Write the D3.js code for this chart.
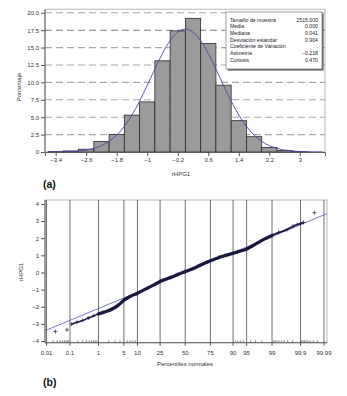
<!DOCTYPE html>
<html><head><meta charset="utf-8">
<script src="https://cdn.jsdelivr.net/npm/d3@7"></script>
<style>
html,body{margin:0;padding:0;background:#fff;}
svg{display:block;font-family:"Liberation Sans",Arial,sans-serif;}
</style></head>
<body>
<svg id="chart" width="347" height="396"></svg>
<script>
// ---------- Panel (a): histogram data ----------
const binLow = [-3.6,-3.2,-2.8,-2.4,-2.0,-1.6,-1.2,-0.8,-0.4,0.0,0.4,0.8,1.2,1.6,2.0,2.4,2.8];
const binPct = [0.05,0.15,0.4,1.5,2.5,5.3,7.2,13.1,17.4,19.2,15.6,9.6,4.5,2.2,0.65,0.2,0.05];
const binWidth = 0.4;
const histTicksX = [-3.4,-2.6,-1.8,-1,-0.2,0.6,1.4,2.2,3];
const histTicksY = [0,2.5,5,7.5,10,12.5,15,17.5,20];
const histTickLabelsY = ["0","2.5","5.0","7.5","10.0","12.5","15.0","17.5","20.0"];
const curveX = [-3.6,-3.4,-3.2,-3.0,-2.8,-2.6,-2.4,-2.2,-2.0,-1.8,-1.6,-1.4,-1.2,-1.0,-0.8,-0.6,-0.4,-0.2,0,0.2,0.4,0.6,0.8,1.0,1.2,1.4,1.6,1.8,2.0,2.2,2.4,2.6,2.8,3.0,3.2,3.4,3.6];
const curveY = [0.006,0.015,0.033,0.07,0.145,0.28,0.52,0.91,1.53,2.43,3.68,5.32,7.31,9.57,11.93,14.16,16.0,17.22,17.65,17.22,16.0,14.16,11.93,9.57,7.31,5.32,3.68,2.43,1.53,0.91,0.52,0.28,0.145,0.07,0.033,0.015,0.006];
const statLabels = ["Tamaño de muestra","Media","Mediana","Desviación estándar","Coeficiente de Variación","Asimetría","Curtosis"];
const statValues = ["2515.000","0.000","0.041","0.904",".","\u22120.218","0.470"];

// ---------- Panel (b): normal probability plot ----------
const qqPct = [0.025,0.076,0.114,0.187,0.298,0.466,0.714,1.0,1.39,2.28,3.59,5,6.68,10,15.87,21.19,25,34.46,42.07,50,57.93,65.54,75,81.59,85.77,90,91.92,95,96.41,97.72,98.61,99,99.38,99.68,99.81,99.865,99.9,99.924,99.973];
const qqValue = [-3.45,-3.35,-3.02,-2.90,-2.80,-2.66,-2.52,-2.42,-2.33,-2.18,-1.92,-1.62,-1.43,-1.21,-0.90,-0.68,-0.52,-0.30,-0.12,0.05,0.22,0.42,0.68,0.87,0.99,1.12,1.20,1.36,1.55,1.80,2.03,2.16,2.33,2.50,2.70,2.80,2.85,2.92,3.49];
const refMean = 0.000, refSD = 0.904;
const probTicks = [0.01,0.1,1,5,10,25,50,75,90,95,99,99.9,99.99];
const probTickLabels = ["0.01","0.1","1","5","10","25","50","75","90","95","99","99.9","99.99"];
const probMinor = [0.02,0.03,0.04,0.05,0.06,0.07,0.08,0.09,0.2,0.3,0.4,0.5,0.6,0.7,0.8,0.9,2,3,4,6,7,8,9,91,92,93,94,96,97,98,99.1,99.2,99.3,99.4,99.5,99.6,99.7,99.8,99.91,99.92,99.93,99.94,99.95,99.96,99.97,99.98];
const qqTicksY = [-4,-3,-2,-1,0,1,2,3,4];

// inverse normal CDF (Acklam)
function qnorm(p){
  const a=[-3.969683028665376e+01,2.209460984245205e+02,-2.759285104469687e+02,1.383577518672690e+02,-3.066479806614716e+01,2.506628277459239e+00];
  const b=[-5.447609879822406e+01,1.615858368580409e+02,-1.556989798598866e+02,6.680131188771972e+01,-1.328068155288572e+01];
  const c=[-7.784894002430293e-03,-3.223964580411365e-01,-2.400758277161838e+00,-2.549732539343734e+00,4.374664141464968e+00,2.938163982698783e+00];
  const d=[7.784695709041462e-03,3.224671290700398e-01,2.445134137142996e+00,3.754408661907416e+00];
  const pl=0.02425, ph=1-pl;
  if(p<pl){const q=Math.sqrt(-2*Math.log(p));return (((((c[0]*q+c[1])*q+c[2])*q+c[3])*q+c[4])*q+c[5])/((((d[0]*q+d[1])*q+d[2])*q+d[3])*q+1);}
  if(p<=ph){const q=p-0.5,r=q*q;return (((((a[0]*r+a[1])*r+a[2])*r+a[3])*r+a[4])*r+a[5])*q/(((((b[0]*r+b[1])*r+b[2])*r+b[3])*r+b[4])*r+1);}
  const q=Math.sqrt(-2*Math.log(1-p));return -(((((c[0]*q+c[1])*q+c[2])*q+c[3])*q+c[4])*q+c[5])/((((d[0]*q+d[1])*q+d[2])*q+d[3])*q+1);
}

const svg = d3.select("#chart");
svg.append("rect").attr("width",347).attr("height",396).attr("fill","#fff");
const tickFont = 6, tickColor = "#333";

// ================= Panel (a) =================
const A = {l:45, r:325, t:9.3, b:152};
const xA = d3.scaleLinear().domain([-3.68,3.66]).range([A.l,A.r]);
const yA = d3.scaleLinear().domain([0,20.5]).range([A.b,A.t]);
const gA = svg.append("g");

// frame
gA.append("rect").attr("x",A.l).attr("y",A.t).attr("width",A.r-A.l).attr("height",A.b-A.t)
  .attr("fill","#fff").attr("stroke","#c4c4c4").attr("stroke-width",1.2);

// dashed gridlines
gA.selectAll("line.grid").data(histTicksY.filter(v=>v>0)).enter().append("line")
  .attr("x1",A.l).attr("x2",A.r).attr("y1",d=>yA(d)).attr("y2",d=>yA(d))
  .attr("stroke",d=>d===17.5?"#7a7a7a":"#a8a8a8").attr("stroke-width",1.1).attr("stroke-dasharray","7,4");

// bars
gA.selectAll("rect.bar").data(binLow).enter().append("rect")
  .attr("x",d=>xA(d)).attr("width",d=>xA(d+binWidth)-xA(d))
  .attr("y",(d,i)=>yA(binPct[i])).attr("height",(d,i)=>yA(0)-yA(binPct[i]))
  .attr("fill","#9b9b9b").attr("stroke","#2a2a2a").attr("stroke-width",0.8);

// normal curve
gA.append("path").datum(curveX.map((x,i)=>[x,curveY[i]]))
  .attr("d",d3.line().x(d=>xA(d[0])).y(d=>yA(d[1])).curve(d3.curveMonotoneX))
  .attr("fill","none").attr("stroke","#4848a8").attr("stroke-width",0.9);

// axes
const axA_x = gA.append("g").attr("transform",`translate(0,${A.b})`)
  .call(d3.axisBottom(xA).tickValues(histTicksX).tickSize(4).tickPadding(2)
    .tickFormat(d=>d3.format("")(d).replace("-","\u2212")));
const axA_y = gA.append("g").attr("transform",`translate(${A.l},0)`)
  .call(d3.axisLeft(yA).tickValues(histTicksY).tickSize(4).tickPadding(2)
    .tickFormat((d,i)=>histTickLabelsY[i]));
[axA_x,axA_y].forEach(ax=>{
  ax.select(".domain").attr("stroke","#555").attr("stroke-width",0.9);
  ax.selectAll(".tick line").attr("stroke","#555");
  ax.selectAll("text").attr("font-size",tickFont).attr("fill",tickColor).attr("font-family","Liberation Sans, Arial");
});
axA_y.select(".domain").attr("d",`M-0,${A.b}V${A.t}`);

gA.append("text").attr("transform","translate(21,87) rotate(-90)").attr("text-anchor","middle")
  .attr("font-size",6).attr("fill","#333").text("Porcentaje");
gA.append("text").attr("x",181).attr("y",175.5).attr("text-anchor","middle")
  .attr("font-size",6).attr("fill","#333").text("rHPG1");

// stats box
const box = {x:226, y:12, w:96, h:57};
gA.append("rect").attr("x",box.x+1.6).attr("y",box.y+1.6).attr("width",box.w).attr("height",box.h).attr("fill","#666");
gA.append("rect").attr("x",box.x).attr("y",box.y).attr("width",box.w).attr("height",box.h)
  .attr("fill","#fff").attr("stroke","#777").attr("stroke-width",0.7);
statLabels.forEach((s,i)=>{
  const yy = box.y + 9.6 + i*6.7;
  gA.append("text").attr("x",box.x+4).attr("y",yy).attr("font-size",5.2).attr("fill","#222").text(s);
  gA.append("text").attr("x",box.x+box.w-4).attr("y",yy).attr("text-anchor","end").attr("font-size",5.2).attr("fill","#222").text(statValues[i]);
});

svg.append("text").attr("x",43).attr("y",188).attr("font-size",10.5).attr("font-weight","bold")
  .attr("fill","#111").text("(a)");

// ================= Panel (b) =================
const B = {l:45, r:327, t:200, b:342.7};
const zB = d3.scaleLinear().domain([-3.76,3.80]).range([B.l,B.r]);
const xB = pct => zB(qnorm(pct/100));
const yB = d3.scaleLinear().domain([-4.1,4.23]).range([B.b,B.t]);
const gB = svg.append("g");

gB.append("rect").attr("x",B.l).attr("y",B.t).attr("width",B.r-B.l).attr("height",B.b-B.t)
  .attr("fill","#fff").attr("stroke","#c4c4c4").attr("stroke-width",1.2);

// vertical gridlines
gB.selectAll("line.vg").data(probTicks).enter().append("line")
  .attr("x1",d=>xB(d)).attr("x2",d=>xB(d)).attr("y1",B.t).attr("y2",B.b)
  .attr("stroke","#4a4a4a").attr("stroke-width",0.8);

// minor ticks (inside)
gB.selectAll("line.mt").data(probMinor).enter().append("line")
  .attr("x1",d=>xB(d)).attr("x2",d=>xB(d)).attr("y1",B.b).attr("y2",B.b-2.5)
  .attr("stroke","#444").attr("stroke-width",0.6);

// reference line
const zDom = zB.domain();
gB.append("line")
  .attr("x1",zB(zDom[0])).attr("y1",yB(refMean+refSD*zDom[0]))
  .attr("x2",zB(zDom[1])).attr("y2",yB(refMean+refSD*zDom[1]))
  .attr("stroke","#5656b8").attr("stroke-width",0.8);

// dense band of points
const qq = qqPct.map((p,i)=>[p,qqValue[i]]);
gB.append("path").datum(qq.slice(7,32))
  .attr("d",d3.line().x(d=>xB(d[0])).y(d=>yB(d[1])).curve(d3.curveMonotoneX))
  .attr("fill","none").attr("stroke","#16163e").attr("stroke-width",3.2).attr("stroke-linecap","round");
gB.append("path").datum(qq.slice(2,9))
  .attr("d",d3.line().x(d=>xB(d[0])).y(d=>yB(d[1])).curve(d3.curveMonotoneX))
  .attr("fill","none").attr("stroke","#1e1e4a").attr("stroke-width",1.6);
gB.append("path").datum(qq.slice(30,38))
  .attr("d",d3.line().x(d=>xB(d[0])).y(d=>yB(d[1])).curve(d3.curveMonotoneX))
  .attr("fill","none").attr("stroke","#1e1e4a").attr("stroke-width",1.8);
// plus markers
const plus = d3.symbol().type(d3.symbolCross).size(9);
gB.selectAll("path.pt").data(qq).enter().append("path")
  .attr("transform",d=>`translate(${xB(d[0])},${yB(d[1])})`)
  .attr("d",()=>"M-2,0H2M0,-2V2")
  .attr("stroke","#1a1a44").attr("stroke-width",0.7).attr("fill","none");

// axes
const axB_y = gB.append("g").attr("transform",`translate(${B.l},0)`)
  .call(d3.axisLeft(yB).tickValues(qqTicksY).tickSize(4).tickPadding(2)
    .tickFormat(d=>String(d).replace("-","\u2212")));
axB_y.select(".domain").attr("d",`M-0,${B.b}V${B.t}`);
const axB_x = gB.append("g").attr("transform",`translate(0,${B.b})`);
axB_x.append("line").attr("x1",B.l).attr("x2",B.r).attr("stroke","#555").attr("stroke-width",0.9);
probTicks.forEach((p,i)=>{
  axB_x.append("line").attr("x1",xB(p)).attr("x2",xB(p)).attr("y1",0).attr("y2",3).attr("stroke","#555");
  axB_x.append("text").attr("x",xB(p)).attr("y",12.5).attr("text-anchor","middle")
    .attr("font-size",tickFont).attr("fill",tickColor).text(probTickLabels[i]);
});
axB_y.select(".domain").attr("stroke","#555").attr("stroke-width",0.9);
axB_y.selectAll(".tick line").attr("stroke","#555");
axB_y.selectAll("text").attr("font-size",tickFont).attr("fill",tickColor).attr("font-family","Liberation Sans, Arial");

gB.append("text").attr("transform","translate(23,272) rotate(-90)").attr("text-anchor","middle")
  .attr("font-size",6).attr("fill","#333").text("rHPG1");
gB.append("text").attr("x",185).attr("y",366).attr("text-anchor","middle")
  .attr("font-size",6).attr("fill","#333").text("Percentiles normales");

svg.append("text").attr("x",43).attr("y",385.5).attr("font-size",10.5).attr("font-weight","bold")
  .attr("fill","#111").text("(b)");
</script>
</body></html>
